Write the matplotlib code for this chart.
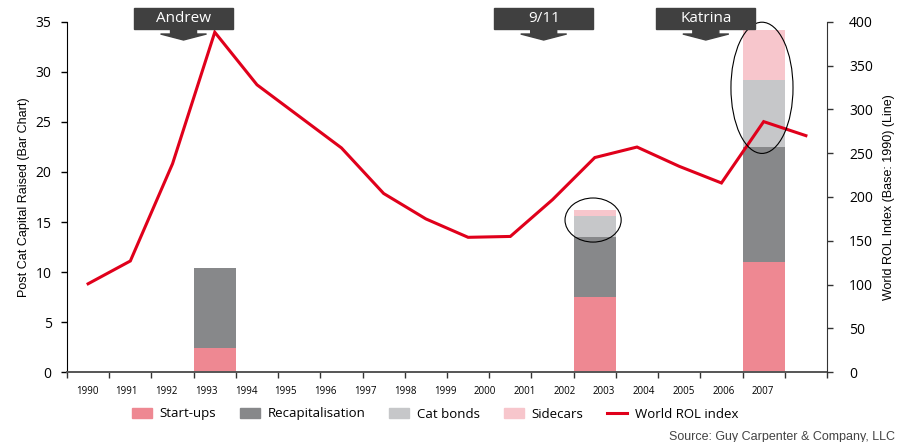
import matplotlib
matplotlib.use('Agg')
import matplotlib.pyplot as plt
from matplotlib.patches import Ellipse, Polygon, Rectangle, Patch
from matplotlib.lines import Line2D
from matplotlib.transforms import blended_transform_factory
import numpy as np

plt.rcParams['font.family'] = ['Open Sans', 'DejaVu Sans']

# ---------------- data ----------------
years = ['1990', '1991', '1992', '1993', '1994', '1995', '1996', '1997', '1998',
         '1999', '2000', '2001', '2002', '2003', '2004', '2005', '2006', '2007']
start_ups = [0, 0, 0, 2.4, 0, 0, 0, 0, 0, 0, 0, 0, 7.5, 0, 0, 0, 11.0, 0]
recapitalisation = [0, 0, 0, 8.0, 0, 0, 0, 0, 0, 0, 0, 0, 6.0, 0, 0, 0, 11.5, 0]
cat_bonds = [0, 0, 0, 0, 0, 0, 0, 0, 0, 0, 0, 0, 2.1, 0, 0, 0, 6.7, 0]
sidecars = [0, 0, 0, 0, 0, 0, 0, 0, 0, 0, 0, 0, 0.6, 0, 0, 0, 5.0, 0]
rol_index = [101, 127, 238, 388, 328, 292, 256, 204, 175, 154, 155, 197,
             245, 257, 235, 216, 286, 270]
events = ['Andrew', '9/11', 'Katrina']
event_slot = [2.76, 11.29, 15.13]

# ---------------- style ----------------
c_start = '#EE8892'
c_recap = '#87888A'
c_cat = '#C6C7C9'
c_side = '#F7C6CC'
c_line = '#E0001B'
c_box = '#404040'

fig = plt.figure(figsize=(9.01, 4.42), dpi=100)
ax = fig.add_axes([67 / 901, (442 - 372.3) / 442, 760 / 901, 350.6 / 442])
ax2 = ax.twinx()

n = len(years)
x = np.arange(n) + 0.5
su = np.array(start_ups)
rc = np.array(recapitalisation)
cb = np.array(cat_bonds)
sc = np.array(sidecars)
ax.bar(x, su, width=1.0, color=c_start, linewidth=0)
ax.bar(x, rc, width=1.0, bottom=su, color=c_recap, linewidth=0)
ax.bar(x, cb, width=1.0, bottom=su + rc, color=c_cat, linewidth=0)
ax.bar(x, sc, width=1.0, bottom=su + rc + cb, color=c_side, linewidth=0)

ax2.plot(x, rol_index, color=c_line, lw=2.2, solid_joinstyle='miter', zorder=5)

ax.set_xlim(0, n)
ax.set_ylim(0, 35)
ax2.set_ylim(0, 400)
ax.set_yticks(np.arange(0, 36, 5))
ax2.set_yticks(np.arange(0, 401, 50))

# x ticks: boundaries + offset year labels
ax.set_xticks(np.arange(0, n + 1))
ax.set_xticklabels([])
ax.set_xticks(0.474 + 0.942 * np.arange(n), minor=True)
ax.set_xticklabels(years, minor=True, fontsize=7)
ax.tick_params(axis='x', which='major', length=4, width=1, color='#333333', direction='out')
ax.tick_params(axis='x', which='minor', length=0, pad=10)
ax.tick_params(axis='y', length=4, width=1, pad=7, labelsize=10, direction='out')
ax2.tick_params(axis='y', length=4, width=1, pad=12, labelsize=10, direction='out', color='#333333')

for a in (ax, ax2):
    a.spines['top'].set_visible(False)
ax.spines['right'].set_visible(False)
ax2.spines['left'].set_visible(False)
ax2.spines['bottom'].set_visible(False)
ax.spines['left'].set_color('black')
ax.spines['bottom'].set_color('#555555')
ax.spines['bottom'].set_linewidth(1.4)
ax2.spines['right'].set_color('#333333')

ax.set_ylabel('Post Cat Capital Raised (Bar Chart)', family='Liberation Sans', fontsize=9, labelpad=4)
ax2.set_ylabel('World ROL Index (Base: 1990) (Line)', family='Liberation Sans', fontsize=9, labelpad=7)

# highlight ellipses (in bar-axis units, drawn above the line)
k = 400 / 35
ax2.add_patch(Ellipse((12.46, 15.2 * k), 1.33, 4.4 * k, fill=False, ec='black', lw=0.8, zorder=6))
ax2.add_patch(Ellipse((16.46, 28.4 * k), 1.47, 13.1 * k, fill=False, ec='black', lw=0.8, zorder=6, clip_on=False))

# event call-outs
tr = blended_transform_factory(ax.transData, ax.transAxes)
def fy(px):
    return (372.3 - px) / 350.6
for name, cx in zip(events, event_slot):
    hw = 49.5 / 42.22
    ax2.add_patch(Rectangle((cx - hw, fy(29)), 2 * hw, fy(8) - fy(29), transform=tr,
                            color=c_box, clip_on=False, zorder=7))
    sw = 13 / 42.22
    hw2 = 23 / 42.22
    pts = [(cx - sw, fy(29)), (cx + sw, fy(29)), (cx + sw, fy(34)), (cx + hw2, fy(34)),
           (cx, fy(40)), (cx - hw2, fy(34)), (cx - sw, fy(34))]
    ax2.add_patch(Polygon(pts, closed=True, transform=tr, color=c_box, clip_on=False, zorder=7))
    ax2.text(cx, fy(18.5), name, transform=tr, ha='center', va='center', color='white',
             fontsize=11, zorder=8, clip_on=False)

handles = [Patch(color=c_start), Patch(color=c_recap), Patch(color=c_cat), Patch(color=c_side),
           Line2D([0], [0], color=c_line, lw=2.2)]
labels = ['Start-ups', 'Recapitalisation', 'Cat bonds', 'Sidecars', 'World ROL index']
fig.legend(handles, labels, loc='center', bbox_to_anchor=(435 / 901, (442 - 414) / 442),
           ncol=5, frameon=False, fontsize=9.5, handlelength=1.5, handleheight=0.7,
           handletextpad=0.6, columnspacing=1.8)

fig.text(895 / 901, (442 - 437) / 442, 'Source: Guy Carpenter & Company, LLC', ha='right', va='center',
         family='Liberation Sans', fontsize=9, color='#444444')

fig.savefig('out.png', dpi=100)
